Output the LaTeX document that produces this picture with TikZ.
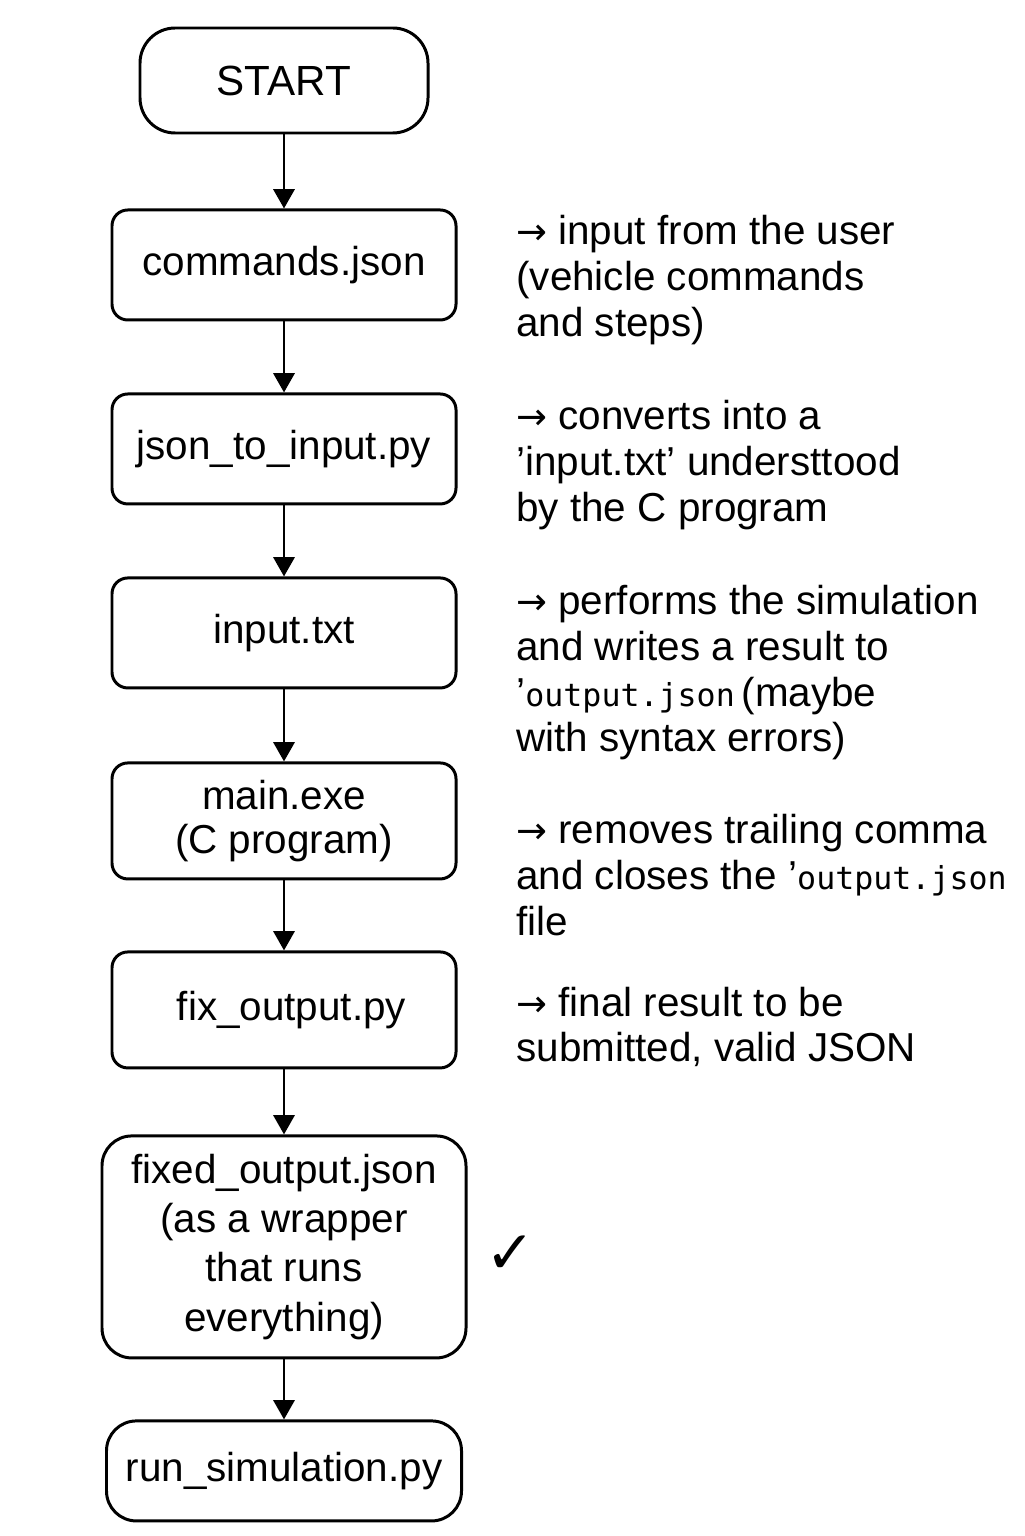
\documentclass[tikz,border=0pt]{standalone}
\usepackage{fontspec}
\setmainfont{Liberation Sans}
\newfontfamily\monofont{DejaVu Sans Mono}
\newfontfamily\symfont{DejaVu Sans}
\usepackage{tikz}
\usetikzlibrary{positioning}
\usetikzlibrary{arrows.meta}
\newcommand{\ra}{{\symfont\fontsize{21}{26}\selectfont →}}
\newcommand{\fname}[1]{{\monofont\fontsize{18}{26}\selectfont #1}}

\begin{document}
\begin{tikzpicture}[
      type-start/.style={rectangle, rounded corners=20pt, draw, line width=1.7pt, minimum width=5.76cm, minimum height=2.1cm},
      type-file/.style={rectangle, rounded corners=9pt, draw, line width=1.7pt, minimum width=6.88cm, minimum height=2.2cm, align=center},
      type-note/.style={anchor=west, align=left, inner sep=0pt},
      every node/.style={font=\fontsize{23}{26}\selectfont},
      flow/.style={-{Triangle[length=11pt,width=12pt]}, line width=1.7pt}
    ]
      \useasboundingbox (0,0) rectangle (20.48,-30.72);
      % boxes
      \node[type-start, font=\fontsize{24}{28}\selectfont] (start) at (5.68,-1.61) {START};
      \node[type-file, below=1.48cm of start] (commands) {commands.json};
      \node[type-file, below=1.42cm of commands] (jsonin) {json\_to\_input.py};
      \node[type-file, below=1.42cm of jsonin] (input) {input.txt};
      \node[type-file, below=1.44cm of input, minimum height=2.32cm, font=\fontsize{23}{25}\selectfont] (mainexe) {main.exe\\(C program)};
      \node[type-file, below=1.40cm of mainexe, minimum height=2.32cm] (fixout) {\hspace{0.3cm}fix\_output.py};
      \node[type-file, below=1.30cm of fixout, minimum width=7.28cm, minimum height=4.44cm, rounded corners=17pt, font=\fontsize{23}{28}\selectfont] (fixedjson) {fixed\_output.json\\(as a wrapper\\that runs\\everything)};
      \node[type-file, below=1.20cm of fixedjson, minimum width=7.1cm, minimum height=2.0cm, rounded corners=17pt] (runsim) {run\_simulation.py};
      % arrows
      \foreach \a/\b in {start/commands, commands/jsonin, jsonin/input, input/mainexe, mainexe/fixout, fixout/fixedjson, fixedjson/runsim}
        \draw[flow] (\a) -- (\b);
      % notes
      \node[type-note] (note1) at (10.32,-5.6) {\ra{} input from the user\\(vehicle commands\\and steps)};
      \node[type-note] (note2) at (10.32,-9.3) {\ra{} converts into a\\’input.txt’ understtood\\by the C program};
      \node[type-note] (note3) at (10.32,-13.46) {\ra{} performs the simulation\\and writes a result to\\’\fname{output.json}\,(maybe\\with syntax errors)};
      \node[type-note] (note4) at (10.32,-17.5) {\ra{} removes trailing comma\\and closes the ’\fname{output.json}\\file};
      \node[type-note] (note5) at (10.32,-20.54) {\ra{} final result to be\\submitted, valid JSON};
      \node (check) at (10.22,-25.1) {\symfont\fontsize{34}{34}\selectfont ✓};
    \end{tikzpicture}
\end{document}
